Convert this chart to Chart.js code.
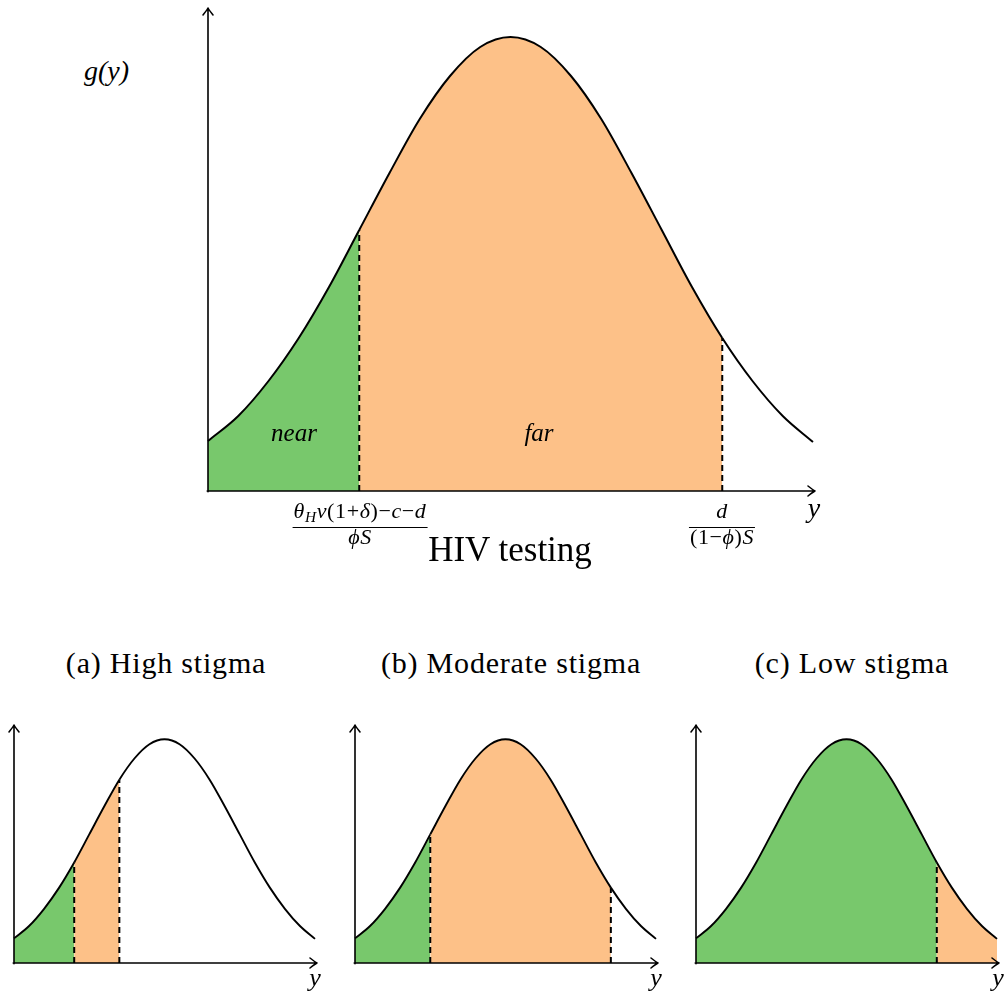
<!DOCTYPE html>
<html>
<head>
<meta charset="utf-8">
<script src="https://cdn.jsdelivr.net/npm/chart.js@4.4.0/dist/chart.umd.min.js"></script>
<style>
  body { margin: 0; background: #fff; }
  #page { position: relative; width: 1004px; height: 998px; overflow: hidden; font-family: "Liberation Serif", serif; color: #000; }
  canvas { position: absolute; }
  .lbl { position: absolute; line-height: 1; white-space: nowrap; }
  .it { font-style: italic; }
  .c { transform: translateX(-50%); }
  .frac { position: absolute; display: flex; flex-direction: column; align-items: stretch; text-align: center; transform: translateX(-50%); font-size: 22px; line-height: 1; white-space: nowrap; letter-spacing: 0.6px; }
  .frac .num { padding: 0 1px 5px; }
  .frac .bar { border-top: 1.2px solid #000; height: 0; }
  .frac .den { margin-top: -2px; padding: 0 1px; }
  .frac sub { font-size: 0.7em; line-height: 0; vertical-align: -0.25em; }
  .title { position: absolute; font-size: 30px; letter-spacing: 0.8px; transform: translateX(-50%); line-height: 1; white-space: nowrap; }
</style>
</head>
<body>
<div id="page">
  <canvas id="mainChart" width="670" height="505" style="left:178px; top:0px;"></canvas>
  <canvas id="highChart" width="330" height="260" style="left:0px; top:715px;"></canvas>
  <canvas id="modChart" width="330" height="260" style="left:341px; top:715px;"></canvas>
  <canvas id="lowChart" width="322" height="260" style="left:682px; top:715px;"></canvas>

  <div class="lbl it" style="left:84px; top:57px; font-size:28px;">g(y)</div>
  <div class="lbl it c" style="left:294px; top:420px; font-size:25px;">near</div>
  <div class="lbl it c" style="left:539px; top:420px; font-size:25px;">far</div>
  <div class="lbl it c" style="left:814px; top:494px; font-size:28px;">y</div>

  <div class="frac" style="left:360px; top:500px;">
    <span class="num"><i>θ</i><sub><i>H</i></sub><i>v</i>(1+<i>δ</i>)−<i>c</i>−<i>d</i></span>
    <span class="bar"></span>
    <span class="den"><i>ϕS</i></span>
  </div>
  <div class="frac" style="left:722px; top:500px;">
    <span class="num"><i>d</i></span>
    <span class="bar"></span>
    <span class="den">(1−<i>ϕ</i>)<i>S</i></span>
  </div>
  <div class="lbl c" style="left:510px; top:532px; font-size:35px;">HIV testing</div>

  <div class="title" style="left:166px; top:648px;">(a) High stigma</div>
  <div class="title" style="left:511px; top:648px;">(b) Moderate stigma</div>
  <div class="title" style="left:852px; top:648px;">(c) Low stigma</div>

  <div class="lbl it c" style="left:315px; top:965px; font-size:26px;">y</div>
  <div class="lbl it c" style="left:656px; top:965px; font-size:26px;">y</div>
  <div class="lbl it c" style="left:998px; top:965px; font-size:26px;">y</div>
</div>

<script>
// curve g(y) (same shape in every panel)
const yPos = [0, 0.5, 1, 1.5, 2, 2.5, 3, 3.5, 4, 4.5, 5, 5.5, 6, 6.5, 7, 7.5, 8, 8.5, 9, 9.5, 10];
const density = [0.50, 0.75, 1.10, 1.53, 2.04, 2.61, 3.18, 3.72, 4.15, 4.44, 4.54, 4.44, 4.15, 3.72, 3.18, 2.61, 2.04, 1.53, 1.10, 0.75, 0.49];
const yMax = 4.83;

// where green (near) ends and where orange (far) ends
const mainCuts = [2.5, 8.5];
const highCuts = [2.0, 3.5];
const moderateCuts = [2.5, 8.5];
const lowCuts = [8.0, 10];

const GREEN = '#78C86C';
const ORANGE = '#FDC188';

// axes with open arrow heads, drawn over the fills
const axisArrows = {
    id: 'axisArrows',
    afterDatasetsDraw(chart) {
        const { ctx, scales: { x, y } } = chart;
        const x0 = x.getPixelForValue(0);
        const y0 = y.getPixelForValue(0);
        const xEnd = x.getPixelForValue(10) + 2;
        const yTop = y.getPixelForValue(yMax);
        ctx.save();
        ctx.strokeStyle = '#000';
        ctx.lineWidth = 1.6;
        ctx.lineCap = 'round';
        ctx.lineJoin = 'round';
        ctx.beginPath();
        ctx.moveTo(x0 - 0.8, y0);
        ctx.lineTo(xEnd, y0);
        ctx.moveTo(x0, y0 + 0.8);
        ctx.lineTo(x0, yTop);
        // x arrow
        ctx.moveTo(xEnd - 7, y0 - 5);
        ctx.quadraticCurveTo(xEnd - 2, y0 - 1, xEnd, y0);
        ctx.quadraticCurveTo(xEnd - 2, y0 + 1, xEnd - 7, y0 + 5);
        // y arrow
        ctx.moveTo(x0 - 5, yTop + 7);
        ctx.quadraticCurveTo(x0 - 1, yTop + 2, x0, yTop);
        ctx.quadraticCurveTo(x0 + 1, yTop + 2, x0 + 5, yTop + 7);
        ctx.stroke();
        ctx.restore();
    }
};

function makeChart(id, cuts, padding, lineWidth) {
    const points = yPos.map((v, i) => ({ x: v, y: density[i] }));
    const datasets = [];

    // dashed markers at the cut points (not at the right edge)
    cuts.filter(c => c < 10).forEach(c => {
        const top = density[yPos.indexOf(c)];
        datasets.push({
            data: [{ x: c, y: 0 }, { x: c, y: top }],
            borderColor: '#000',
            borderWidth: 2,
            borderDash: [6, 4],
            pointRadius: 0,
            fill: false,
            clip: false
        });
    });

    datasets.push({
        data: points,
        borderColor: '#000',
        borderWidth: lineWidth,
        backgroundColor: GREEN,
        pointRadius: 0,
        cubicInterpolationMode: 'monotone',
        fill: 'origin',
        clip: false,
        segment: {
            backgroundColor: ctx => {
                const x = ctx.p0.parsed.x;
                if (x < cuts[0]) return GREEN;
                if (x < cuts[1]) return ORANGE;
                return 'rgba(0,0,0,0)';
            }
        }
    });

    return new Chart(document.getElementById(id).getContext('2d'), {
        type: 'line',
        data: { datasets: datasets },
        options: {
            responsive: false,
            animation: false,
            devicePixelRatio: 1,
            layout: { padding: padding },
            plugins: { legend: { display: false }, tooltip: { enabled: false } },
            scales: {
                x: { type: 'linear', min: 0, max: 10, display: false },
                y: { min: 0, max: yMax, display: false }
            }
        },
        plugins: [axisArrows]
    });
}

makeChart('mainChart', mainCuts, { left: 30, right: 35, top: 8, bottom: 14 }, 2);
makeChart('highChart', highCuts, { left: 14, right: 15, top: 10, bottom: 12 }, 1.9);
makeChart('modChart', moderateCuts, { left: 14, right: 15, top: 10, bottom: 12 }, 1.9);
makeChart('lowChart', lowCuts, { left: 14, right: 7, top: 10, bottom: 12 }, 1.9);
</script>
</body>
</html>
